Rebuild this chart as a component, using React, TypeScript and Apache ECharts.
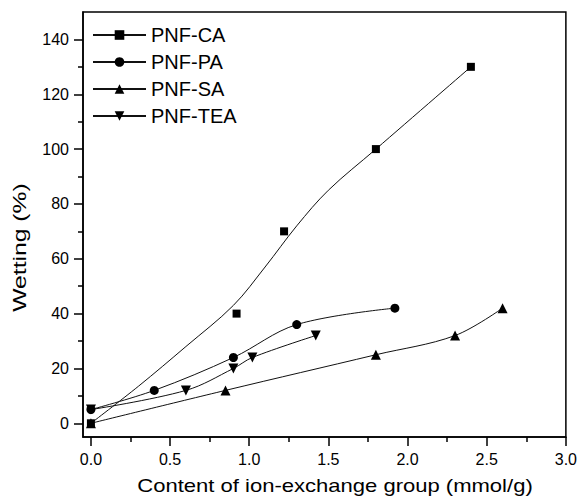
import { useEffect, useRef } from 'react';
import * as echarts from 'echarts';

const FONT = '"Liberation Sans", Arial, Helvetica, sans-serif';

// Axis ticks
const xTicks = [0, 0.5, 1.0, 1.5, 2.0, 2.5, 3.0];
const xMinorTicks = [0.25, 0.75, 1.25, 1.75, 2.25, 2.75];
const yTicks = [0, 20, 40, 60, 80, 100, 120, 140];
const yMinorTicks = [10, 30, 50, 70, 90, 110, 130];

// Series names
const seriesNames = ['PNF-CA', 'PNF-PA', 'PNF-SA', 'PNF-TEA'];

// Measured points
const caX = [0, 0.92, 1.22, 1.8, 2.4];
const caY = [0, 40, 70, 100, 130];
// Fitted curve for PNF-CA
const caFitX = [0, 0.3, 0.6, 0.9, 1.1, 1.3, 1.5, 1.8, 2.4];
const caFitY = [0, 13.5, 28, 43, 57, 72, 85, 100, 130];

const paX = [0, 0.4, 0.9, 1.3, 1.92];
const paY = [5, 12, 24, 36, 42];

const saX = [0, 0.85, 1.8, 2.3, 2.6];
const saY = [0, 12, 25, 32, 42];

const teaX = [0, 0.6, 0.9, 1.02, 1.42];
const teaY = [5, 12, 20, 24, 32];

const xTitle = 'Content of ion-exchange group (mmol/g)';
const yTitle = 'Wetting (%)';

const zip = (xs: number[], ys: number[]) => xs.map((x, i) => [x, ys[i]]);

export default function App() {
  const ref = useRef<HTMLDivElement>(null);

  useEffect(() => {
    document.body.style.margin = '0';
    if (!ref.current) return;
    const chart = echarts.init(ref.current, undefined, { renderer: 'svg' });

    const axisLineStyle = { color: '#000', width: 1.5 };
    const lineStyle = { color: '#111', width: 1 };
    const itemStyle = { color: '#000', opacity: 1 };

    const option: any = {
      animation: false,
      backgroundColor: '#fff',
      grid: {
        left: 83,
        right: 13,
        top: 12,
        bottom: 64,
        show: true,
        borderColor: '#000',
        borderWidth: 1.5,
        containLabel: false,
      },
      legend: {
        data: seriesNames,
        orient: 'vertical',
        left: 92,
        top: 25,
        padding: 0,
        itemWidth: 53,
        itemHeight: 12,
        itemGap: 7,
        selectedMode: false,
        textStyle: { fontSize: 20, color: '#000', fontFamily: FONT },
      },
      xAxis: [
        {
          type: 'value',
          min: -0.05,
          max: 3.0,
          position: 'bottom',
          axisLine: { show: true, onZero: false, lineStyle: axisLineStyle },
          axisTick: { show: true, inside: false, length: 9, customValues: xTicks, lineStyle: axisLineStyle },
          axisLabel: {
            customValues: xTicks,
            formatter: (v: number) => v.toFixed(1),
            fontSize: 16,
            color: '#000',
            fontFamily: FONT,
            margin: 14,
          },
          splitLine: { show: false },
        },
        {
          type: 'value',
          min: -0.05,
          max: 3.0,
          position: 'bottom',
          axisLine: { show: false, onZero: false },
          axisTick: { show: true, inside: false, length: 5, customValues: xMinorTicks, lineStyle: axisLineStyle },
          axisLabel: { show: false },
          splitLine: { show: false },
        },
      ],
      yAxis: [
        {
          type: 'value',
          min: -5,
          max: 150,
          position: 'left',
          axisLine: { show: true, onZero: false, lineStyle: axisLineStyle },
          axisTick: { show: true, inside: false, length: 9, customValues: yTicks, lineStyle: axisLineStyle },
          axisLabel: {
            customValues: yTicks,
            fontSize: 16,
            color: '#000',
            fontFamily: FONT,
            margin: 14,
          },
          splitLine: { show: false },
        },
        {
          type: 'value',
          min: -5,
          max: 150,
          position: 'left',
          axisLine: { show: false, onZero: false },
          axisTick: { show: true, inside: false, length: 5, customValues: yMinorTicks, lineStyle: axisLineStyle },
          axisLabel: { show: false },
          splitLine: { show: false },
        },
      ],
      series: [
        {
          type: 'line',
          name: 'PNF-CA',
          data: zip(caFitX, caFitY),
          smooth: 0.35,
          symbol: 'rect',
          symbolSize: 8,
          showSymbol: false,
          lineStyle,
          itemStyle,
          silent: true,
        },
        {
          type: 'scatter',
          name: 'PNF-CA points',
          data: zip(caX, caY),
          symbol: 'rect',
          symbolSize: 8,
          itemStyle,
          silent: true,
          z: 3,
        },
        {
          type: 'line',
          name: 'PNF-PA',
          data: zip(paX, paY),
          smooth: 0.35,
          symbol: 'circle',
          symbolSize: 9,
          showSymbol: true,
          lineStyle,
          itemStyle,
          silent: true,
        },
        {
          type: 'line',
          name: 'PNF-SA',
          data: zip(saX, saY),
          smooth: 0.35,
          symbol: 'triangle',
          symbolSize: 10,
          showSymbol: true,
          lineStyle,
          itemStyle,
          silent: true,
        },
        {
          type: 'line',
          name: 'PNF-TEA',
          data: zip(teaX, teaY),
          smooth: 0.35,
          symbol: 'triangle',
          symbolRotate: 180,
          symbolSize: 10,
          showSymbol: true,
          lineStyle,
          itemStyle,
          silent: true,
        },
      ],
      graphic: [
        {
          type: 'text',
          x: 335,
          y: 485,
          scaleX: 1.16,
          style: {
            text: xTitle,
            fontSize: 19,
            fontFamily: FONT,
            fill: '#000',
            align: 'center',
            verticalAlign: 'middle',
            textAlign: 'center',
            textVerticalAlign: 'middle',
          },
        },
        {
          type: 'text',
          x: 19.5,
          y: 247.5,
          rotation: Math.PI / 2,
          scaleX: 1.3,
          style: {
            text: yTitle,
            fontSize: 19,
            fontFamily: FONT,
            fill: '#000',
            align: 'center',
            verticalAlign: 'middle',
            textAlign: 'center',
            textVerticalAlign: 'middle',
          },
        },
      ],
    };

    chart.setOption(option);
    return () => chart.dispose();
  }, []);

  return <div ref={ref} style={{ width: 580, height: 501 }} />;
}
